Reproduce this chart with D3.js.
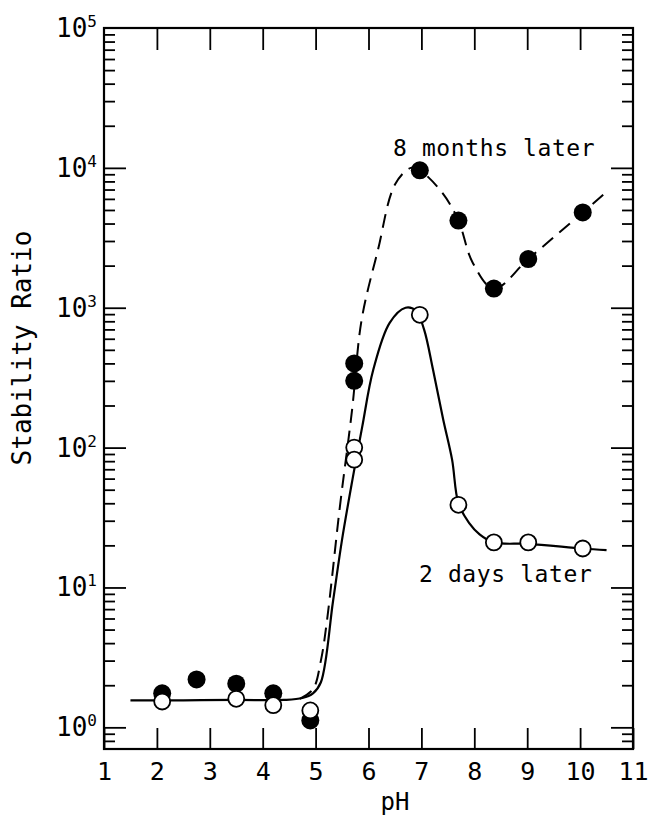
<!DOCTYPE html>
<html>
<head>
<meta charset="utf-8">
<script src="https://cdn.jsdelivr.net/npm/d3@7"></script>
<style>
	body { margin: 0; background: #fff; }
	text { font-family: 'DejaVu Sans Mono', monospace; fill: #000; }
</style>
</head>
<body>
<div id="chart"></div>
<script>
// measured points
const phFilled = [2.1, 2.75, 3.5, 4.2, 4.9, 5.73, 5.73, 6.97, 7.7, 8.37, 9.02, 10.05];
const ratio8Months = [1.75, 2.2, 2.05, 1.75, 1.12, 400, 300, 9600, 4200, 1370, 2230, 4800];
const phOpen = [2.1, 3.5, 4.2, 4.9, 5.73, 5.73, 6.97, 7.7, 8.37, 9.02, 10.05];
const ratio2Days = [1.53, 1.6, 1.44, 1.32, 100, 82, 890, 39, 21, 21, 19];

// fitted curves
const curve2DaysPh = [1.5, 2.5, 3.5, 4.4, 4.75, 4.95, 5.1, 5.33, 5.5, 5.7, 5.88, 6.09, 6.4, 6.7, 6.9, 7.05, 7.22, 7.41, 7.58, 7.7, 7.9, 8.1, 8.37, 9.02, 10.05, 10.5];
const curve2DaysVal = [1.56, 1.56, 1.57, 1.57, 1.62, 1.75, 2.1, 8, 22, 60, 140, 360, 780, 1000, 950, 700, 360, 160, 82, 40, 29, 24, 21, 20.5, 19, 18.5];
const curve8MonthsPh = [4.7, 4.95, 5.1, 5.21, 5.46, 5.69, 5.87, 6.18, 6.5, 6.8, 6.97, 7.4, 7.7, 7.97, 8.37, 9.02, 10.05, 10.53];
const curve8MonthsVal = [1.6, 1.87, 3, 5.6, 38, 187, 820, 2600, 7600, 10000, 9600, 6600, 4200, 2100, 1370, 2230, 4800, 6900];

const xTicks = [1, 2, 3, 4, 5, 6, 7, 8, 9, 10, 11];
const yMajor = [1, 10, 100, 1000, 10000, 100000];
const yMinor = [0.8, 0.9];
[1, 10, 100, 1000, 10000].forEach((d) => {
	for (let k = 2; k <= 9; k++) yMinor.push(k * d);
});

const width = 649;
const height = 819;
const plotLeft = 104, plotRight = 633, plotTop = 28, plotBottom = 749;

const svg = d3.select('#chart').append('svg').attr('width', width).attr('height', height);

const x = d3.scaleLinear().domain([1, 11]).range([plotLeft, plotRight]);
const y = d3.scaleLog().domain([0.7, 1e5]).range([plotBottom, plotTop]);

// ticks =====================================================
function styleTicks(g) {
	g.select('.domain').remove();
	g.selectAll('line').attr('stroke', '#000').attr('stroke-width', 1.8);
}

svg.append('g')
	.attr('transform', `translate(0,${plotBottom})`)
	.call(d3.axisBottom(x).tickValues(xTicks).tickSizeInner(-21).tickSizeOuter(0).tickPadding(13).tickFormat(d3.format('d')))
	.call(styleTicks)
	.call((g) => g.selectAll('text').style('font-size', '25px').style('font-family', 'DejaVu Sans Mono'));

svg.append('g')
	.attr('transform', `translate(0,${plotTop})`)
	.call(d3.axisTop(x).tickValues(xTicks.slice(1, -1)).tickSize(-22).tickFormat(''))
	.call(styleTicks);

svg.append('g')
	.attr('transform', `translate(${plotLeft},0)`)
	.call(d3.axisLeft(y).tickValues(yMajor.slice(0, -1)).tickSize(-22).tickFormat(''))
	.call(styleTicks);

svg.append('g')
	.attr('transform', `translate(${plotLeft},0)`)
	.call(d3.axisLeft(y).tickValues(yMinor).tickSize(-11).tickFormat(''))
	.call(styleTicks);

svg.append('g')
	.attr('transform', `translate(${plotRight},0)`)
	.call(d3.axisRight(y).tickValues(yMajor.slice(0, -1)).tickSize(-22).tickFormat(''))
	.call(styleTicks);

svg.append('g')
	.attr('transform', `translate(${plotRight},0)`)
	.call(d3.axisRight(y).tickValues(yMinor).tickSize(-11).tickFormat(''))
	.call(styleTicks);

// frame
svg.append('rect')
	.attr('x', plotLeft)
	.attr('y', plotTop)
	.attr('width', plotRight - plotLeft)
	.attr('height', plotBottom - plotTop)
	.attr('fill', 'none')
	.attr('stroke', '#000')
	.attr('stroke-width', 2.2);

// y tick labels 10^n
const yLabels = svg.append('g')
	.selectAll('text')
	.data(yMajor)
	.join('text')
	.attr('x', 97)
	.attr('y', (d) => y(d) + 9)
	.attr('text-anchor', 'end')
	.style('font-size', '26px');
yLabels.append('tspan').text('10');
yLabels.append('tspan')
	.attr('dy', -10)
	.style('font-size', '16px')
	.text((d) => Math.round(Math.log10(d)));

// axis titles
svg.append('text')
	.attr('x', 395)
	.attr('y', 810)
	.attr('text-anchor', 'middle')
	.style('font-size', '24px')
	.text('pH');

svg.append('text')
	.attr('transform', 'translate(31,348) rotate(-90)')
	.attr('text-anchor', 'middle')
	.style('font-size', '26px')
	.text('Stability Ratio');

// curves ====================================================
const line = d3.line()
	.x((d) => x(d[0]))
	.y((d) => y(d[1]))
	.curve(d3.curveCatmullRom.alpha(0.5));

svg.append('path')
	.datum(d3.zip(curve8MonthsPh, curve8MonthsVal))
	.attr('d', line)
	.attr('fill', 'none')
	.attr('stroke', '#000')
	.attr('stroke-width', 2)
	.attr('stroke-dasharray', '14,8');

svg.append('path')
	.datum(d3.zip(curve2DaysPh, curve2DaysVal))
	.attr('d', line)
	.attr('fill', 'none')
	.attr('stroke', '#000')
	.attr('stroke-width', 2.2);

// markers ===================================================
svg.append('g')
	.selectAll('circle')
	.data(d3.zip(phFilled, ratio8Months))
	.join('circle')
	.attr('cx', (d) => x(d[0]))
	.attr('cy', (d) => y(d[1]))
	.attr('r', 9)
	.attr('fill', '#000');

svg.append('g')
	.selectAll('circle')
	.data(d3.zip(phOpen, ratio2Days))
	.join('circle')
	.attr('cx', (d) => x(d[0]))
	.attr('cy', (d) => y(d[1]))
	.attr('r', 8)
	.attr('fill', '#fff')
	.attr('stroke', '#000')
	.attr('stroke-width', 1.8);

// series labels
svg.append('text')
	.attr('x', 393)
	.attr('y', 156)
	.style('font-size', '23px')
	.style('letter-spacing', '0.6px')
	.text('8 months later');

svg.append('text')
	.attr('x', 419)
	.attr('y', 582)
	.style('font-size', '23px')
	.style('letter-spacing', '0.6px')
	.text('2 days later');
</script>
</body>
</html>
